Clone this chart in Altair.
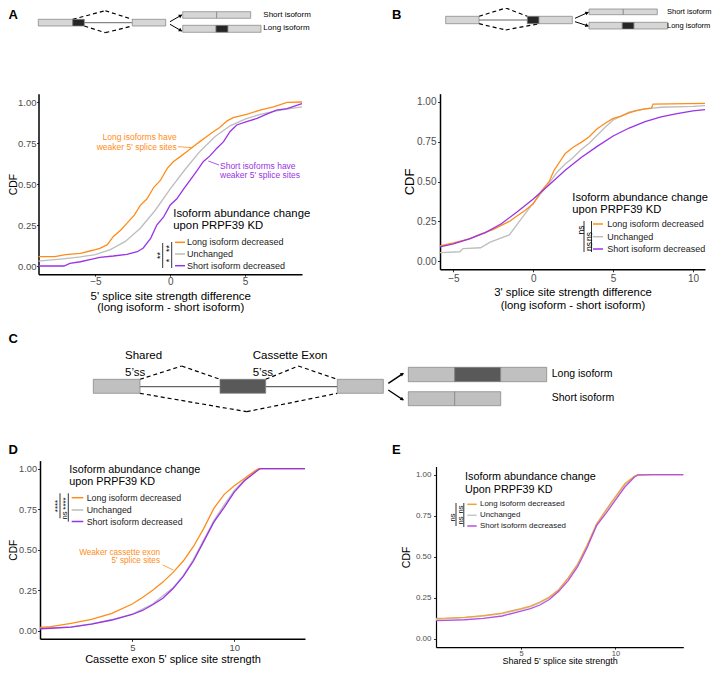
import math
import altair as alt
import pandas as pd

W, H, M = 704, 658, 8
FONT = "Liberation Sans"

ORANGE, GRAY, PURPLE = "#ff8c1a", "#bdbdbd", "#9933e6"
ORANGE_E, GRAY_E, PURPLE_E = "#eda33b", "#c8c8c8", "#b451e3"
SERIES = ["Long isoform decreased", "Unchanged", "Short isoform decreased"]
LEG_TITLE = ["Isoform abundance change", "upon PRPF39 KD"]
LEG_TITLE_E = ["Isoform abundance change", "Upon PRPF39 KD"]

# ---------------- Panel A: 5' splice site strength difference ----------------
A_long_x = [-8.8, -7.7, -7.0, -6.0, -5.3, -5.0, -4.7, -4.2, -3.8, -3.3, -2.9, -2.4, -2.0, -1.55, -1.1,
            -0.67, -0.2, 0.2, 0.67, 1.1, 1.56, 2.0, 2.44, 2.9, 3.3, 3.8, 4.2, 5.1, 6.0, 6.9, 7.8, 8.8]
A_long_y = [0.057, 0.057, 0.07, 0.077, 0.093, 0.10, 0.108, 0.13, 0.18, 0.22, 0.26, 0.31, 0.37, 0.41, 0.48,
            0.52, 0.595, 0.636, 0.667, 0.697, 0.73, 0.76, 0.79, 0.82, 0.845, 0.885, 0.905, 0.925, 0.95, 0.97, 0.998, 1.0]
A_short_x = [-8.8, -7.1, -6.7, -6.0, -5.3, -4.7, -3.8, -2.9, -2.2, -1.8, -1.3, -0.9, -0.44, 0.0, 0.44, 0.9,
             1.33, 1.78, 2.2, 2.67, 3.1, 3.56, 4.0, 4.44, 5.1, 5.8, 6.4, 7.1, 7.8, 8.4, 8.8]
A_short_y = [0.0, 0.0, 0.016, 0.026, 0.04, 0.053, 0.061, 0.071, 0.087, 0.11, 0.17, 0.25, 0.30, 0.372, 0.41, 0.47,
             0.524, 0.58, 0.636, 0.673, 0.717, 0.758, 0.82, 0.86, 0.88, 0.90, 0.925, 0.95, 0.96, 0.978, 0.99]
A_unch_x = [-8.8, -7, -6, -5, -4, -3, -2, -1, 0, 1, 2, 3, 4, 5, 6, 7, 8, 8.8]
A_unch_y = [0.03, 0.045, 0.055, 0.07, 0.10, 0.15, 0.23, 0.34, 0.47, 0.59, 0.70, 0.79, 0.855, 0.895, 0.925, 0.945, 0.96, 0.97]

# ---------------- Panel B: 3' splice site strength difference ----------------
B_long_x = [-5.84, -5, -4, -3.3, -2.5, -2, -1.5, -1, -0.5, 0, 0.5, 1, 1.3, 1.7, 2, 2.5, 3, 3.5, 4, 4.5, 5,
            5.5, 6, 6.5, 7, 7.4, 7.5, 10.75]
B_long_y = [0.097, 0.115, 0.14, 0.17, 0.20, 0.225, 0.25, 0.285, 0.32, 0.36, 0.44, 0.50, 0.57, 0.63, 0.675,
            0.715, 0.745, 0.78, 0.83, 0.865, 0.895, 0.91, 0.93, 0.945, 0.955, 0.96, 0.985, 0.99]
B_unch_x = [-5.84, -4.6, -4.4, -3.3, -2.7, -1.5, -0.8, -0.2, 0.4, 1.0, 1.5, 2, 2.5, 3, 3.5, 4, 4.5, 5, 5.5,
            6, 7, 8, 10, 10.75]
B_unch_y = [0.055, 0.06, 0.08, 0.085, 0.12, 0.165, 0.26, 0.34, 0.415, 0.49, 0.56, 0.61, 0.65, 0.70, 0.74,
            0.79, 0.84, 0.885, 0.91, 0.935, 0.955, 0.965, 0.97, 0.975]
B_short_x = [-5.84, -5, -4, -3, -2, -1, 0, 1, 2, 3, 4, 5, 6, 7, 8, 9, 10, 10.75]
B_short_y = [0.09, 0.11, 0.14, 0.18, 0.235, 0.31, 0.39, 0.48, 0.57, 0.65, 0.72, 0.785, 0.835, 0.875, 0.905,
             0.925, 0.942, 0.95]

# ---------------- Panel D: cassette exon 5' splice site strength ----------------
D_long_x = [0.475, 1, 2, 3, 4, 5, 5.5, 6, 6.5, 7, 7.5, 8, 8.5, 9, 9.5, 10, 10.5, 11, 11.2, 13.47]
D_long_y = [0.02, 0.025, 0.045, 0.07, 0.107, 0.165, 0.205, 0.25, 0.30, 0.36, 0.43, 0.52, 0.63, 0.755, 0.84,
            0.895, 0.94, 0.985, 1.0, 1.0]
D_unch_x = [0.475, 2, 3, 4, 5, 6, 7, 7.5, 8, 8.5, 9, 9.5, 10, 10.5, 11, 11.2, 11.3, 13.47]
D_unch_y = [0.013, 0.024, 0.042, 0.068, 0.103, 0.165, 0.265, 0.34, 0.44, 0.56, 0.68, 0.775, 0.865, 0.93,
            0.978, 0.995, 1.0, 1.0]
D_short_x = [0.475, 1, 2, 3, 4, 5, 5.5, 6, 6.5, 7, 7.5, 8, 8.5, 9, 9.5, 10, 10.5, 11, 11.2, 11.3, 13.47]
D_short_y = [0.012, 0.015, 0.022, 0.04, 0.066, 0.10, 0.125, 0.16, 0.20, 0.26, 0.335, 0.43, 0.55, 0.67, 0.76,
             0.855, 0.925, 0.975, 0.995, 1.0, 1.0]

# ---------------- Panel E: shared 5' splice site strength ----------------
E_long_x = [0.493, 1, 2, 3, 4, 5, 5.5, 6, 6.5, 7, 7.5, 8, 8.5, 9, 9.5, 10, 10.5, 11, 11.2, 13.6]
E_long_y = [0.126, 0.127, 0.132, 0.142, 0.158, 0.185, 0.20, 0.225, 0.255, 0.30, 0.37, 0.455, 0.57, 0.70,
            0.785, 0.865, 0.945, 0.99, 1.0, 1.0]
E_unch_x = [0.493, 1, 2, 3, 4, 5, 5.5, 6, 6.5, 7, 7.5, 8, 8.5, 9, 9.5, 10, 10.5, 11, 11.2, 13.6]
E_unch_y = [0.12, 0.122, 0.13, 0.14, 0.155, 0.18, 0.197, 0.22, 0.252, 0.30, 0.372, 0.455, 0.565, 0.69, 0.78,
            0.86, 0.94, 0.988, 1.0, 1.0]
E_short_x = [0.493, 1, 2, 3, 4, 5, 5.5, 6, 6.5, 7, 7.5, 8, 8.5, 9, 9.5, 10, 10.5, 11, 11.2, 12, 13.6]
E_short_y = [0.112, 0.113, 0.117, 0.125, 0.14, 0.17, 0.185, 0.207, 0.24, 0.29, 0.355, 0.44, 0.555, 0.69,
             0.765, 0.845, 0.925, 0.985, 0.998, 1.0, 1.0]

Y_TICKS = [0, 0.25, 0.5, 0.75, 1.0]


def panel(curves, colors, xdom, xpx, ypx, xticks, xtitle, st):
    xs = alt.Scale(domain=xdom, range=[xpx[0] - M, xpx[1] - M], nice=False, zero=False)
    ys = alt.Scale(domain=[-0.05, 1.05], range=[ypx[0] - M, ypx[1] - M], nice=False, zero=False)
    common = dict(grid=False, domainColor="black", domainWidth=st["dw"], tickColor="#333333", tickWidth=1,
                  labelColor="#4d4d4d", labelFont=FONT, titleFont=FONT, titleColor="black",
                  titleFontWeight="normal", labelFlush=False, labelOverlap=False)
    xa = alt.Axis(orient="bottom", offset=(ypx[0] - M) - H, values=xticks, title=xtitle,
                  labelPadding=st["xlp"], labelFontSize=st["xlfs"], tickSize=st["xts"],
                  titleFontSize=st["xtfs"], titlePadding=st["xtp"], titleLineHeight=st["tlh"], **common)
    ya = alt.Axis(orient="left", offset=-(xpx[0] - M), values=Y_TICKS, format=".2f", title="CDF",
                  labelPadding=st["ylp"], labelFontSize=st["ylfs"], tickSize=st["yts"],
                  titleFontSize=st["ytfs"], titlePadding=st["ytp"], **common)
    layers = []
    for (cx, cy), col in zip(curves, colors):
        df = pd.DataFrame({"x": cx, "y": cy})
        layers.append(
            alt.Chart(df).mark_line(color=col, strokeWidth=st["lw"]).encode(
                x=alt.X("x:Q", scale=xs, axis=xa), y=alt.Y("y:Q", scale=ys, axis=ya)))
    return alt.layer(*layers)


pA = panel([(A_unch_x, A_unch_y), (A_long_x, A_long_y), (A_short_x, A_short_y)], [GRAY, ORANGE, PURPLE],
           [-8.8, 8.8], [38.5, 302], [274.2, 93.8], [-5, 0, 5],
           ["5' splice site strength difference", "(long isoform - short isoform)"],
           dict(dw=1.5, xlfs=10, xts=2, xlp=0.5, xtfs=11.5, xtp=4, tlh=11,
                ylfs=9.5, yts=2, ylp=0.5, ytfs=10.5, ytp=-0.8, lw=1.3))
pB = panel([(B_unch_x, B_unch_y), (B_long_x, B_long_y), (B_short_x, B_short_y)], [GRAY, ORANGE, PURPLE],
           [-5.84, 10.75], [440, 705], [269.3, 93.7], [-5, 0, 5, 10],
           ["3' splice site strength difference", "(long isoform - short isoform)"],
           dict(dw=1.5, xlfs=10, xts=2.5, xlp=1.5, xtfs=11.3, xtp=3.5, tlh=13,
                ylfs=10, yts=2.5, ylp=1.5, ytfs=13, ytp=0, lw=1.3))
pD = panel([(D_unch_x, D_unch_y), (D_long_x, D_long_y), (D_short_x, D_short_y)], [GRAY, ORANGE, PURPLE],
           [0.475, 13.47], [40, 305], [638.8, 460.6], [5, 10],
           "Cassette exon 5' splice site strength",
           dict(dw=1.5, xlfs=9.5, xts=2.5, xlp=1, xtfs=11, xtp=1.5, tlh=12,
                ylfs=9.2, yts=2.5, ylp=1, ytfs=10.2, ytp=0.3, lw=1.3))
pE = panel([(E_unch_x, E_unch_y), (E_long_x, E_long_y), (E_short_x, E_short_y)], [GRAY_E, ORANGE_E, PURPLE_E],
           [0.493, 13.6], [436, 683.3], [647.2, 466.5], [5, 10],
           "Shared 5' splice site strength",
           dict(dw=1.2, xlfs=7.5, xts=2, xlp=0, xtfs=9, xtp=0, tlh=11,
                ylfs=8, yts=2.5, ylp=2.5, ytfs=10.5, ytp=4, lw=1.3))

# ---------------- overlay: schematics, legends, annotations ----------------
ox = alt.Scale(domain=[0, 720], range=[-M, 720 - M])
oy = alt.Scale(domain=[0, 674], range=[-M, 674 - M])
LIGHT, LIGHT_C, DARK, DARK_C, EDGE = "#d6d6d6", "#c0c0c0", "#262626", "#595959", "#7f7f7f"

# exon boxes: x1, x2, y1, y2, fill
rects = [
    # A gene model and isoforms
    (38.3, 72.7, 19.3, 26, LIGHT), (72.7, 84.3, 19.3, 26, DARK), (132.3, 165.7, 19.3, 26, LIGHT),
    (182.7, 216.7, 11.7, 18.3, LIGHT), (216.7, 250.7, 11.7, 18.3, LIGHT),
    (182.7, 216, 25.3, 32.3, LIGHT), (216, 228, 25.3, 32.3, DARK), (228, 261, 25.3, 32.3, LIGHT),
    # B
    (445.7, 479, 16.3, 23.7, LIGHT), (527.3, 539, 16.3, 23.7, DARK), (539, 572.3, 16.3, 23.7, LIGHT),
    (589, 623.3, 9, 14.7, LIGHT), (623.3, 657.3, 9, 14.7, LIGHT),
    (589, 622.3, 22.3, 29, LIGHT), (622.3, 634, 22.3, 29, DARK), (634, 667.7, 22.3, 29, LIGHT),
    # C
    (93.3, 140, 379.3, 393.3, LIGHT_C), (220, 265.7, 379.3, 393.3, DARK_C), (337.3, 383.3, 379.3, 393.3, LIGHT_C),
    (408.3, 454.7, 367.3, 381.7, LIGHT_C), (454.7, 500.7, 367.3, 381.7, DARK_C), (500.7, 546.7, 367.3, 381.7, LIGHT_C),
    (408.3, 454.7, 391.7, 405.7, LIGHT_C), (454.7, 500.7, 391.7, 405.7, LIGHT_C),
]
# solid segments: x1, y1, x2, y2, colour, width
solid = [
    (84.3, 22.7, 132.3, 22.7, "#404040", 0.8), (170, 21.7, 181.7, 15, "#000000", 1.0), (170, 24.3, 181.7, 31, "#000000", 1.0),
    (479, 20, 527.3, 20, "#404040", 0.8), (575, 18.3, 588.3, 12.3, "#000000", 1.0), (575, 21.7, 588.3, 26, "#000000", 1.0),
    (140, 386.7, 220, 386.7, "#404040", 1.0), (265.7, 386.7, 337.3, 386.7, "#404040", 1.0),
    (388.3, 383.3, 403.3, 373.3, "#000000", 1.5), (388.3, 390, 403.3, 400, "#000000", 1.5),
    # annotation pointers
    (178, 146.7, 193.3, 147.7, ORANGE, 0.8), (208.3, 161, 219, 165, PURPLE, 0.8), (162.7, 565, 173.3, 570, ORANGE, 0.8),
    # significance brackets
    (162.7, 243, 162.7, 268, "#000000", 0.8), (171.7, 242, 171.7, 268, "#000000", 0.8),
    (584, 221, 584, 252, "#000000", 0.8), (591.5, 221, 591.5, 252, "#000000", 0.8),
    (60, 493.3, 60, 518.3, "#000000", 0.8), (68.3, 493.3, 68.3, 521.7, "#000000", 0.8),
    (456, 503, 456, 526, "#000000", 0.8), (463.8, 503, 463.8, 527, "#000000", 0.8),
]
dashed = [
    (72.7, 19.3, 105.3, 10.7), (105.3, 10.7, 132.3, 19.3), (84.3, 26, 105.3, 32.7), (105.3, 32.7, 132.3, 26),
    (479, 16.3, 505.7, 8), (505.7, 8, 527.3, 16.3), (479, 23.7, 505.7, 30), (505.7, 30, 539, 23.7),
    (140, 379.3, 181.7, 366), (181.7, 366, 220, 379.3), (265.7, 379.3, 298.3, 366), (298.3, 366, 337.3, 379.3),
    (140, 393.3, 246.7, 411.7), (246.7, 411.7, 337.3, 393.3),
]
arrow_idx = [1, 2, 4, 5, 8, 9]  # solid segments that carry arrow heads

# texts: text, x, y, size, colour, angle
texts_left = [
    ("Short isoform", 263.3, 14.7, 8, "#000000", 0), ("Long isoform", 263.3, 28, 8, "#000000", 0),
    ("Short isoform", 667, 11.7, 7.5, "#000000", 0), ("Long isoform", 667, 25.7, 7.5, "#000000", 0),
    ("Shared", 125, 356, 11.5, "#000000", 0), ("5\u2019ss", 125, 373.3, 11.5, "#000000", 0),
    ("Cassette Exon", 252.7, 356, 11.5, "#000000", 0), ("5\u2019ss", 252.7, 373.3, 11.5, "#000000", 0),
    ("Long isoform", 551.7, 374.3, 10.5, "#000000", 0), ("Short isoform", 551.7, 398.3, 10.5, "#000000", 0),
    ("Short isoforms have", 220, 165.7, 8.5, PURPLE, 0), ("weaker 5' splice sites", 220, 175, 8.5, PURPLE, 0),
]
texts_right = [
    ("Long isoforms have", 176.7, 136.7, 8.5, ORANGE, 0), ("weaker 5' splice sites", 176.7, 146.7, 8.5, ORANGE, 0),
    ("Weaker cassette exon", 160, 552.7, 8.2, ORANGE, 0), ("5' splice sites", 160, 560.7, 8.2, ORANGE, 0),
]
texts_center = [
    ("**", 160, 255.5, 9, "#000000", 270), ("**", 169, 248.5, 9, "#000000", 270), ("*", 169, 260.5, 9, "#000000", 270),
    ("ns", 580.5, 230, 8.5, "#000000", 270), ("ns", 588.5, 236.5, 8.5, "#000000", 270), ("ns", 588.5, 246.5, 8.5, "#000000", 270),
    ("****", 57.5, 506, 8, "#000000", 270), ("****", 66, 503.5, 8, "#000000", 270), ("ns", 64.5, 515.5, 7.5, "#000000", 270),
    ("ns", 453, 517.5, 7.5, "#000000", 270), ("ns", 461, 509.5, 7.5, "#000000", 270), ("ns", 461, 520.5, 7.5, "#000000", 270),
]
letters = [("A", 8.5, 15), ("B", 392, 15), ("C", 8.5, 339), ("D", 8.5, 449.5), ("E", 392, 449.5)]

# in-panel legends: title x, title ys, title size, row ys, symbol x1, x2, label x, label size, colours, title
legends = [
    (173.3, [214, 225.7], 11.3, [242.3, 254, 265.7], 175, 185, 187, 9, [ORANGE, GRAY, PURPLE], LEG_TITLE),
    (572.3, [198, 210], 11.2, [224, 236.7, 249], 593, 603, 607.3, 9, [ORANGE, GRAY, PURPLE], LEG_TITLE),
    (69.3, [470, 481.7], 10.8, [497.7, 510, 521.5], 71.7, 83.3, 86.7, 8.8, [ORANGE, GRAY, PURPLE], LEG_TITLE),
    (465, [477.3, 490], 10.8, [504.3, 515.3, 526], 467.3, 476.7, 480, 7.9, [ORANGE_E, GRAY_E, PURPLE_E], LEG_TITLE_E),
]
leg_rules = []
for tx, tys, tfs, rys, sx1, sx2, lx, lfs, cols, title in legends:
    for line, ty in zip(title, tys):
        texts_left.append((line, tx, ty, tfs, "#000000", 0))
    for name, ry, col in zip(SERIES, rys, cols):
        texts_left.append((name, lx, ry, lfs, "#1a1a1a", 0))
        leg_rules.append((sx1, ry, sx2, ry, col, 1.5))
solid = solid + leg_rules

heads = []
for i in arrow_idx:
    x1, y1, x2, y2 = solid[i][:4]
    L = math.hypot(x2 - x1, y2 - y1)
    ux, uy = (x2 - x1) / L, (y2 - y1) / L
    ang = (math.degrees(math.atan2(uy, ux)) + 90) % 360
    heads.append((x2 - 1.2 * ux, y2 - 1.2 * uy, ang))


def OX(f):
    return alt.X(f + ":Q", scale=ox, axis=None)


def OY(f):
    return alt.Y(f + ":Q", scale=oy, axis=None)


rect_df = pd.DataFrame(rects, columns=["x", "x2", "y", "y2", "fill"])
solid_df = pd.DataFrame(solid, columns=["x", "y", "x2", "y2", "c", "w"])
dash_df = pd.DataFrame(dashed, columns=["x", "y", "x2", "y2"])
head_df = pd.DataFrame(heads, columns=["x", "y", "a"])

rect_layer = alt.Chart(rect_df).mark_rect(stroke=EDGE, strokeWidth=0.7).encode(
    x=OX("x"), x2="x2:Q", y=OY("y"), y2="y2:Q", fill=alt.Fill("fill:N", scale=None))
solid_layer = alt.Chart(solid_df).mark_rule().encode(
    x=OX("x"), x2="x2:Q", y=OY("y"), y2="y2:Q",
    stroke=alt.Stroke("c:N", scale=None), strokeWidth=alt.StrokeWidth("w:Q", scale=None))
dash_layer = alt.Chart(dash_df).mark_rule(color="#000000", strokeWidth=1.2, strokeDash=[4, 3]).encode(
    x=OX("x"), x2="x2:Q", y=OY("y"), y2="y2:Q")
head_layer = alt.Chart(head_df).mark_point(shape="triangle-up", filled=True, size=16, color="#000000", opacity=1).encode(
    x=OX("x"), y=OY("y"), angle=alt.Angle("a:Q", scale=None))


def text_layer(rows, align, weight="normal"):
    df = pd.DataFrame(rows, columns=["t", "x", "y", "s", "c", "a"])
    return alt.Chart(df).mark_text(align=align, baseline="middle", font=FONT, fontWeight=weight).encode(
        x=OX("x"), y=OY("y"), text="t:N", size=alt.Size("s:Q", scale=None),
        color=alt.Color("c:N", scale=None), angle=alt.Angle("a:Q", scale=None))


letter_rows = [(t, x, y, 13, "#000000", 0) for t, x, y in letters]
overlay = alt.layer(
    dash_layer, solid_layer, rect_layer, head_layer,
    text_layer(texts_left, "left"), text_layer(texts_right, "right"), text_layer(texts_center, "center"),
    text_layer(letter_rows, "left", "bold"),
)

chart = alt.layer(overlay, pA, pB, pD, pE).resolve_scale(
    x="independent", y="independent"
).properties(
    width=W, height=H, autosize=alt.AutoSizeParams(type="none"), padding=0
).configure_view(stroke=None)

chart.save("out.html", embed_options={"renderer": "svg", "actions": False})
